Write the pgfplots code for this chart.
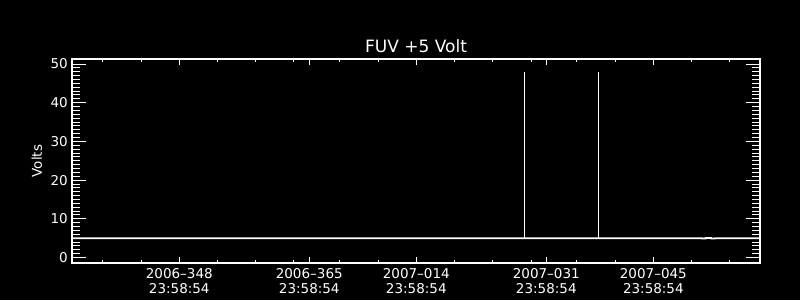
\documentclass[border=0pt]{standalone}
\usepackage{pgfplots}
\pgfplotsset{compat=1.18}
\usepackage{fontspec}
\setmainfont{DejaVu Sans}
\begin{document}
\begin{tikzpicture}
\fill[black] (0pt,0pt) rectangle (800pt,300pt);
\useasboundingbox (0pt,0pt) rectangle (800pt,300pt);
\pgfplotsset{
  common/.style={
    at={(72pt,37pt)}, anchor=south west, scale only axis,
    width=688pt, height=204pt,
    xmin=-14.03, xmax=75.95, ymin=-1.4, ymax=51.3,
    axis line style={white, line width=1.2pt},
    tick style={white, line width=1pt},
    tick align=inside,
    /pgf/number format/assume math mode=true,
    font=\fontsize{13.5}{14.8}\selectfont,
    ticklabel style={white},
    clip=true,
  },
}
% y ticks, title, label, data
\begin{axis}[common,
  xtick=\empty,
  ytick={0,10,20,30,40,50},
  minor y tick num=9,
  major tick length=14pt, minor tick length=7.7pt,
  yticklabel style={inner sep=0pt, xshift=-4pt},
  ylabel={Volts},
  ylabel style={white, at={(axis description cs:-0.051,0.5)}, anchor=center, rotate=0},
  title={FUV +5 Volt},
  title style={white, font=\fontsize{17}{20}\selectfont, at={(axis description cs:0.5,1)}, anchor=base, inner sep=0pt, yshift=0pt},
  unbounded coords=jump,
]
\addplot[white, line width=1.8pt] coordinates {
(-14.03,5.0) (45.12,5.0) (54.80,5.0) (68.35,5.0) (68.36,4.93) (68.85,4.93) (68.86,5.07)
(69.55,5.07) (69.56,4.94) (70.10,4.94) (70.11,5.0) (75.95,5.0)
};
\addplot[white, line width=1pt] coordinates {
(45.12,5.0) (45.12,48.0)
(45.12,nan)
(54.80,5.0) (54.80,48.0)
};
\end{axis}
% x ticks
\begin{axis}[common,
  ytick=\empty,
  xtick={0,17,31,48,62},
  xticklabels={{2006–348\\23:58:54},{2006–365\\23:58:54},{2007–014\\23:58:54},{2007–031\\23:58:54},{2007–045\\23:58:54}},
  xticklabel style={align=center, inner sep=0pt, yshift=-5pt},
  minor xtick={-10,-5,5,10,15,21,26,36,41,46,52,57,67,72},
  major tick length=6pt, minor tick length=3pt,
]
\end{axis}
\end{tikzpicture}
\end{document}
